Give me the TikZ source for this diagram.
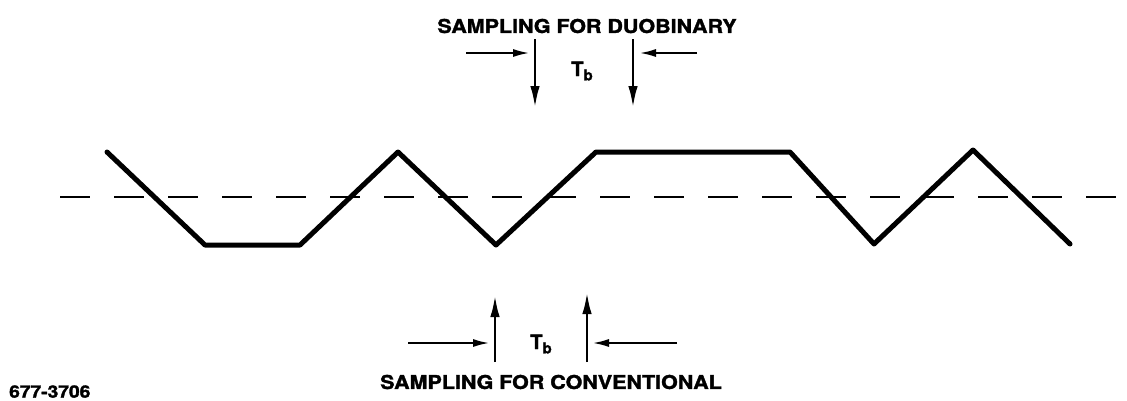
\documentclass[tikz,border=0pt]{standalone}
\usepackage{fontspec}
\setmainfont[BoldFeatures={FakeBold=1.6}]{TeX Gyre Heros}
\usetikzlibrary{arrows.meta}
\newcommand{\wideT}[1]{\scalebox{1.13}[1]{#1}}
\begin{document}
\begin{tikzpicture}[x=1pt,y=-1pt,
  wave/.style={line width=5pt,line join=round,line cap=round},
  axis/.style={line width=2.8pt,dash pattern=on 30pt off 24pt},
  arr/.style={line width=2.8pt,-{Latex[length=22pt,width=9.5pt]}},
  harr/.style={line width=2.4pt,-{Latex[length=17pt,width=8pt]}},
  lbl/.style={font=\bfseries\fontsize{19}{19}\selectfont,inner sep=0pt},
  tb/.style={font=\bfseries\fontsize{20}{20}\selectfont,inner sep=0pt}]
\useasboundingbox (0,0) rectangle (1127,400);
% baseline (dashed)
\coordinate (d0) at (60,197);
\coordinate (d1) at (1127,197);
\draw[axis] (d0) -- (d1);
% waveform
\coordinate (w0) at (107,152);
\coordinate (w1) at (205,245);
\coordinate (w2) at (300,245);
\coordinate (w3) at (398,152);
\coordinate (w4) at (496,245);
\coordinate (w5) at (596,152);
\coordinate (w6) at (790,152);
\coordinate (w7) at (874,244);
\coordinate (w8) at (973,150);
\coordinate (w9) at (1070,244);
\draw[wave] (w0) -- (w1) -- (w2) -- (w3) -- (w4) -- (w5) -- (w6) -- (w7) -- (w8) -- (w9);
% top annotation
\node[lbl] (dtext) at (587,26) {\wideT{SAMPLING FOR DUOBINARY}};
\coordinate (ta0) at (535,39);  \coordinate (ta1) at (535,108);
\coordinate (tb0) at (633,39);  \coordinate (tb1) at (633,108);
\draw[arr] (ta0) -- (ta1);
\draw[arr] (tb0) -- (tb1);
\coordinate (th0) at (466,53);  \coordinate (th1) at (530,53);
\coordinate (tj0) at (697,53);  \coordinate (tj1) at (639,53);
\draw[harr] (th0) -- (th1);
\draw[harr] (tj0) -- (tj1);
\node[tb] (ttb) at (582,71) {T\raisebox{-0.4ex}{\fontsize{15}{15}\selectfont b}};
% bottom annotation
\coordinate (ba0) at (495,362); \coordinate (ba1) at (495,295);
\coordinate (bb0) at (587,362); \coordinate (bb1) at (587,292);
\draw[arr] (ba0) -- (ba1);
\draw[arr] (bb0) -- (bb1);
\coordinate (bh0) at (408,343); \coordinate (bh1) at (490,343);
\coordinate (bj0) at (677,343); \coordinate (bj1) at (592,343);
\draw[harr] (bh0) -- (bh1);
\draw[harr] (bj0) -- (bj1);
\node[tb] (btb) at (541,344) {T\raisebox{-0.4ex}{\fontsize{15}{15}\selectfont b}};
\node[lbl] (ctext) at (551,382) {\wideT{SAMPLING FOR CONVENTIONAL}};
% figure number
\node[lbl,anchor=south west,font=\bfseries\fontsize{17}{17}\selectfont] (fig) at (9,398) {\wideT{677-3706}};
\end{tikzpicture}
\end{document}
